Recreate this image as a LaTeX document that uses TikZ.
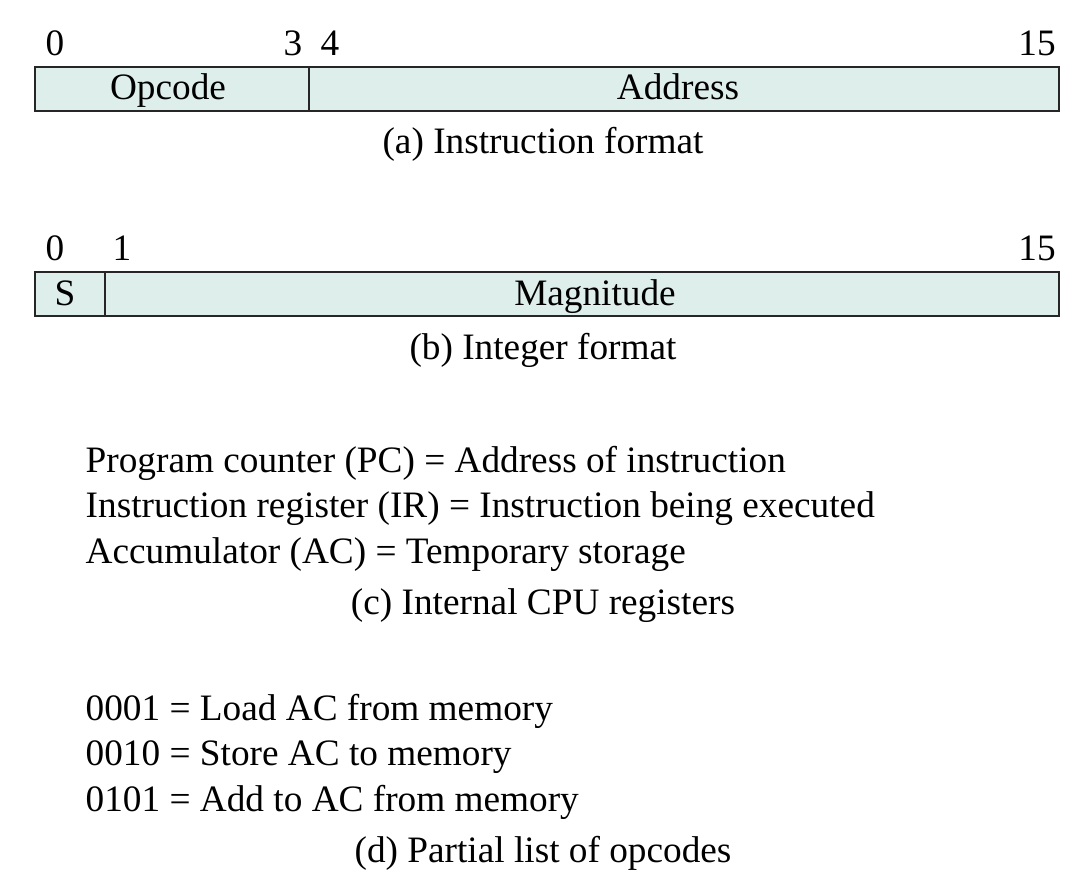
\documentclass[tikz,border=0pt]{standalone}
\usepackage{fontspec}
\setmainfont{Liberation Serif}
\usepackage{xcolor}
\usetikzlibrary{positioning}
\definecolor{fieldfill}{RGB}{222,238,235}
\tikzset{
  field/.style={fill=fieldfill, draw=black!85, line width=0.6pt},
  bitno/.style={inner sep=0pt, anchor=base},
  txt/.style={inner sep=0pt, anchor=base west},
  caption/.style={inner sep=0pt, anchor=base}
}

\begin{document}
\begin{tikzpicture}[x=0.01cm, y=-0.01cm, font=\fontsize{10.6}{13}\selectfont]
			\useasboundingbox (0,0) rectangle (1092,888);
			% (a) instruction format
			\filldraw[field] (35,67) rectangle (309,111);
			\filldraw[field] (309,67) rectangle (1059,111);
			\node[caption] (opcode) at (168,100) {Opcode};
			\node[caption] (address) at (678,100) {Address};
			\node[bitno] (a0) at (55,56) {0};
			\node[bitno] (a3) at (293,56) {3};
			\node[bitno] (a4) at (330,56) {4};
			\node[bitno] (a15) at (1037,56) {15};
			\node[caption] (capa) at (543,153) {(a) Instruction format};
			% (b) integer format
			\filldraw[field] (35,272) rectangle (105,316);
			\filldraw[field] (105,272) rectangle (1059,316);
			\node[caption] (sign) at (65,305) {S};
			\node[caption] (magnitude) at (595,305) {Magnitude};
			\node[bitno] (b0) at (55,260) {0};
			\node[bitno] (b1) at (122,260) {1};
			\node[bitno] (b15) at (1037,260) {15};
			\node[caption] (capb) at (543,359) {(b) Integer format};
			% (c) registers
			\node[txt] (pc) at (85,472) {Program counter (PC) = Address of instruction};
			\node[txt] (ir) at (85,517) {Instruction register (IR) = Instruction being executed};
			\node[txt] (ac) at (85,563) {Accumulator (AC) = Temporary storage};
			\node[caption] (capc) at (543,614) {(c) Internal CPU registers};
			% (d) opcodes
			\node[txt] (load) at (85,720) {0001 = Load AC from memory};
			\node[txt] (store) at (85,765) {0010 = Store AC to memory};
			\node[txt] (add) at (85,811) {0101 = Add to AC from memory};
			\node[caption] (capd) at (543,862) {(d) Partial list of opcodes};
		\end{tikzpicture}
\end{document}
